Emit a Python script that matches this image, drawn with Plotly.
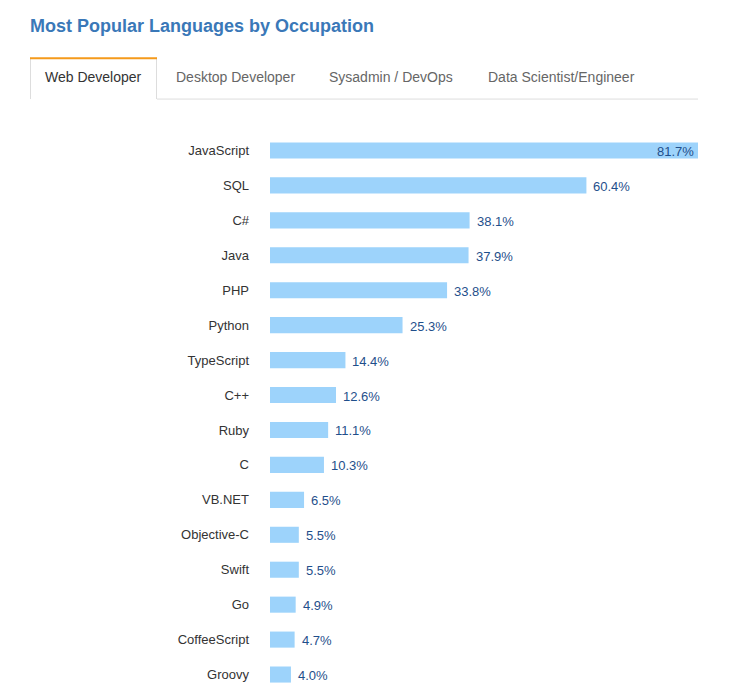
import plotly.graph_objects as go

languages = ["JavaScript", "SQL", "C#", "Java", "PHP", "Python", "TypeScript", "C++",
             "Ruby", "C", "VB.NET", "Objective-C", "Swift", "Go", "CoffeeScript", "Groovy"]
shares = [81.7, 60.4, 38.1, 37.9, 33.8, 25.3, 14.4, 12.6, 11.1, 10.3, 6.5, 5.5, 5.5, 4.9, 4.7, 4.0]
tab_labels = ["Web Developer", "Desktop Developer", "Sysadmin / DevOps", "Data Scientist/Engineer"]
title_text = "Most Popular Languages by Occupation"

W, H = 755, 698
L, R = 270, 698
T, B = 132.5, 692.5

def px(x):
    return (x - L) / (R - L)

def py(y):
    return 1 - (y - T) / (B - T)

FONT = "Liberation Sans, Arial, Helvetica, sans-serif"
VAL_COLOR = "#1f4f8b"

fig = go.Figure(go.Bar(
    x=shares, y=languages, orientation="h",
    marker=dict(color="#9dd3fb", line=dict(width=0)),
    hoverinfo="skip",
))

shapes = []
gray = "#dddddd"
shapes.append(dict(type="line", xref="paper", yref="paper", x0=px(157), x1=px(698),
                   y0=py(98.5), y1=py(98.5), line=dict(color=gray, width=1)))
shapes.append(dict(type="line", xref="paper", yref="paper", x0=px(30.5), x1=px(30.5),
                   y0=py(57), y1=py(98.5), line=dict(color=gray, width=1)))
shapes.append(dict(type="line", xref="paper", yref="paper", x0=px(156.5), x1=px(156.5),
                   y0=py(57), y1=py(98.5), line=dict(color=gray, width=1)))
shapes.append(dict(type="line", xref="paper", yref="paper", x0=px(30), x1=px(157),
                   y0=py(57.5), y1=py(57.5), line=dict(color="#f59a1b", width=2)))

annotations = [dict(text=f"<b>{title_text}</b>", xref="paper", yref="paper",
                    x=px(28), y=py(25), xanchor="left", yanchor="middle", showarrow=False,
                    font=dict(family=FONT, size=18, color="#3a78b8"))]
tab_centers = [93, 235, 391, 561]
for i, (lab, cx) in enumerate(zip(tab_labels, tab_centers)):
    annotations.append(dict(text=lab, xref="paper", yref="paper", x=px(cx), y=py(76),
                            xanchor="center", yanchor="middle", showarrow=False,
                            font=dict(family=FONT, size=14, color="#333333" if i == 0 else "#666666")))

vmax = max(shares)
for lang, v in zip(languages, shares):
    inside = v == vmax
    annotations.append(dict(text=f"{v:.1f}%", x=v, y=lang, xref="x", yref="y",
                            xanchor="right" if inside else "left",
                            xshift=-2 if inside else 5, yshift=-1,
                            yanchor="middle", showarrow=False,
                            font=dict(family=FONT, size=13, color=VAL_COLOR)))

fig.update_layout(
    width=W, height=H,
    margin=dict(l=L, r=W - R, t=T, b=H - B, pad=0),
    paper_bgcolor="white", plot_bgcolor="white",
    bargap=0.54,
    showlegend=False,
    xaxis=dict(range=[0, vmax], visible=False, fixedrange=True),
    yaxis=dict(autorange="reversed", showgrid=False, zeroline=False, showline=False,
               ticks="", ticklabelstandoff=20,
               tickfont=dict(family=FONT, size=13, color="#333333"), fixedrange=True),
    shapes=shapes, annotations=annotations,
)

fig.write_html("out.html", config={"displayModeBar": False})
